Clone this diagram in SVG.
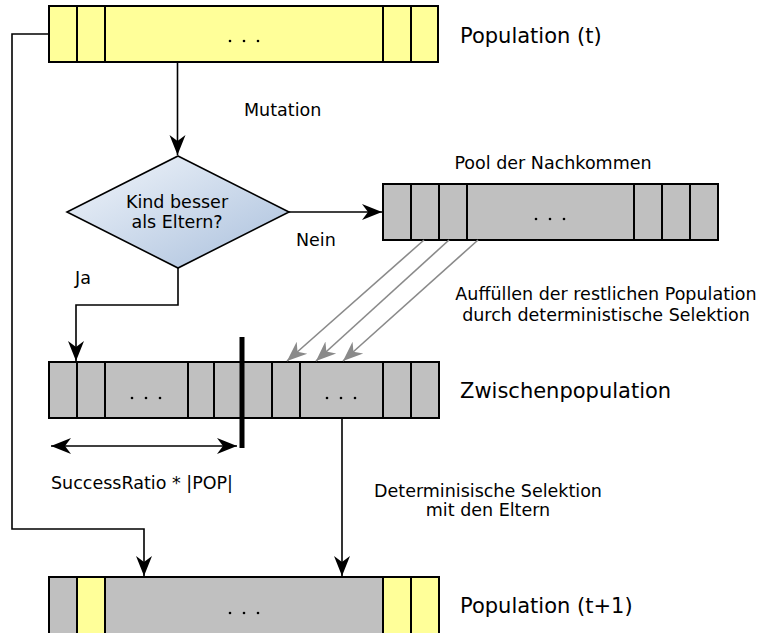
<svg xmlns="http://www.w3.org/2000/svg" width="769" height="633" viewBox="0 0 769 633">
  <style>
    .cell { stroke: #000; stroke-width: 2; }
    .gray { fill: #c0c0c0; }
    .yel { fill: #ffff99; }
    .div { stroke: #000; stroke-width: 2; }
    .dot { fill: #000; }
    .wire { fill: none; stroke: #000; stroke-width: 1.6; }
    .gwire { fill: none; stroke: #8a8a8a; stroke-width: 1.6; }
    text { font-family: "DejaVu Sans", "Noto Sans", sans-serif; fill: #000; }
    .lbl { font-size: 17.5px; }
    .big { font-size: 21px; }
  </style>
  <defs>
    <marker id="ah" markerUnits="userSpaceOnUse" viewBox="0 0 22 18" markerWidth="22" markerHeight="18" refX="20" refY="9" orient="auto-start-reverse">
      <path d="M0,1 L20,9 L0,17 L6,9 z" fill="#000"/>
    </marker>
    <marker id="ahg" markerUnits="userSpaceOnUse" viewBox="0 0 22 18" markerWidth="22" markerHeight="18" refX="20" refY="9" orient="auto">
      <path d="M0,1 L20,9 L0,17 L6,9 z" fill="#8a8a8a"/>
    </marker>
    <linearGradient id="dia" x1="0" y1="0" x2="1" y2="1">
      <stop offset="0" stop-color="#f2f6fb"/>
      <stop offset="1" stop-color="#a9bfdc"/>
    </linearGradient>
  </defs>

  <!-- population at generation t -->
  <g id="pop-t">
    <rect class="cell yel" x="49" y="6" width="389" height="56"/>
    <line class="div" x1="77" y1="6" x2="77" y2="62"/>
    <line class="div" x1="105" y1="6" x2="105" y2="62"/>
    <line class="div" x1="383" y1="6" x2="383" y2="62"/>
    <line class="div" x1="411" y1="6" x2="411" y2="62"/>
    <circle class="dot" cx="230" cy="41" r="1.3"/>
    <circle class="dot" cx="244" cy="41" r="1.3"/>
    <circle class="dot" cx="258" cy="41" r="1.3"/>
    <text class="big" x="460" y="43">Population (t)</text>
  </g>

  <!-- decision -->
  <g id="decision">
    <polygon points="178,156 289,212 178,268 67,212" fill="url(#dia)" stroke="#000" stroke-width="1.6"/>
    <text class="lbl" x="177" y="208" text-anchor="middle">Kind besser</text>
    <text class="lbl" x="177" y="228" text-anchor="middle">als Eltern?</text>
  </g>

  <!-- offspring pool -->
  <g id="pool">
    <rect class="cell gray" x="383" y="184" width="335" height="56"/>
    <line class="div" x1="411" y1="184" x2="411" y2="240"/>
    <line class="div" x1="439" y1="184" x2="439" y2="240"/>
    <line class="div" x1="467" y1="184" x2="467" y2="240"/>
    <line class="div" x1="634" y1="184" x2="634" y2="240"/>
    <line class="div" x1="662" y1="184" x2="662" y2="240"/>
    <line class="div" x1="690" y1="184" x2="690" y2="240"/>
    <circle class="dot" cx="536" cy="219" r="1.3"/>
    <circle class="dot" cx="550" cy="219" r="1.3"/>
    <circle class="dot" cx="564" cy="219" r="1.3"/>
    <text class="lbl" x="553" y="169" text-anchor="middle">Pool der Nachkommen</text>
  </g>

  <!-- intermediate population -->
  <g id="zwischen">
    <rect class="cell gray" x="49" y="362" width="390" height="56"/>
    <line class="div" x1="77" y1="362" x2="77" y2="418"/>
    <line class="div" x1="105" y1="362" x2="105" y2="418"/>
    <line class="div" x1="188" y1="362" x2="188" y2="418"/>
    <line class="div" x1="214" y1="362" x2="214" y2="418"/>
    <line class="div" x1="272" y1="362" x2="272" y2="418"/>
    <line class="div" x1="300" y1="362" x2="300" y2="418"/>
    <line class="div" x1="383" y1="362" x2="383" y2="418"/>
    <line class="div" x1="411" y1="362" x2="411" y2="418"/>
    <circle class="dot" cx="132" cy="398" r="1.3"/>
    <circle class="dot" cx="146" cy="398" r="1.3"/>
    <circle class="dot" cx="160" cy="398" r="1.3"/>
    <circle class="dot" cx="327" cy="398" r="1.3"/>
    <circle class="dot" cx="341" cy="398" r="1.3"/>
    <circle class="dot" cx="355" cy="398" r="1.3"/>
    <rect x="239.5" y="337" width="5" height="111" fill="#000"/>
    <text class="big" x="460" y="398">Zwischenpopulation</text>
  </g>

  <!-- population at generation t+1 -->
  <g id="pop-t1">
    <rect class="gray" x="49" y="577" width="28" height="60"/>
    <rect class="yel" x="77" y="577" width="28" height="60"/>
    <rect class="gray" x="105" y="577" width="278" height="60"/>
    <rect class="yel" x="383" y="577" width="56" height="60"/>
    <rect x="49" y="577" width="390" height="60" fill="none" stroke="#000" stroke-width="2"/>
    <line class="div" x1="77" y1="577" x2="77" y2="633"/>
    <line class="div" x1="105" y1="577" x2="105" y2="633"/>
    <line class="div" x1="383" y1="577" x2="383" y2="633"/>
    <line class="div" x1="411" y1="577" x2="411" y2="633"/>
    <circle class="dot" cx="230" cy="613" r="1.3"/>
    <circle class="dot" cx="244" cy="613" r="1.3"/>
    <circle class="dot" cx="258" cy="613" r="1.3"/>
    <text class="big" x="460" y="613">Population (t+1)</text>
  </g>

  <!-- connectors -->
  <g id="connectors">
    <path class="wire" d="M177.5,62 V155" marker-end="url(#ah)"/>
    <path class="wire" d="M289,212 H382" marker-end="url(#ah)"/>
    <path class="wire" d="M178,268 V305 H76 V361" marker-end="url(#ah)"/>
    <path class="wire" d="M49,34 H12 V529 H144 V576" marker-end="url(#ah)"/>
    <path class="wire" d="M342,418 V576" marker-end="url(#ah)"/>
    <path class="wire" d="M51,446 H237" marker-start="url(#ah)" marker-end="url(#ah)"/>
    <path class="gwire" d="M424,240 L287,361" marker-end="url(#ahg)"/>
    <path class="gwire" d="M449,240 L316,361" marker-end="url(#ahg)"/>
    <path class="gwire" d="M478,240 L343,361" marker-end="url(#ahg)"/>
    <text class="lbl" x="244" y="116">Mutation</text>
    <text class="lbl" x="296" y="246">Nein</text>
    <text class="lbl" x="75" y="284">Ja</text>
    <text class="lbl" x="606" y="300" text-anchor="middle">Auffüllen der restlichen Population</text>
    <text class="lbl" x="606" y="321" text-anchor="middle">durch deterministische Selektion</text>
    <text class="lbl" x="488" y="497" text-anchor="middle">Determinisische Selektion</text>
    <text class="lbl" x="488" y="516" text-anchor="middle">mit den Eltern</text>
    <text class="lbl" x="51" y="489">SuccessRatio * |POP|</text>
  </g>
</svg>
